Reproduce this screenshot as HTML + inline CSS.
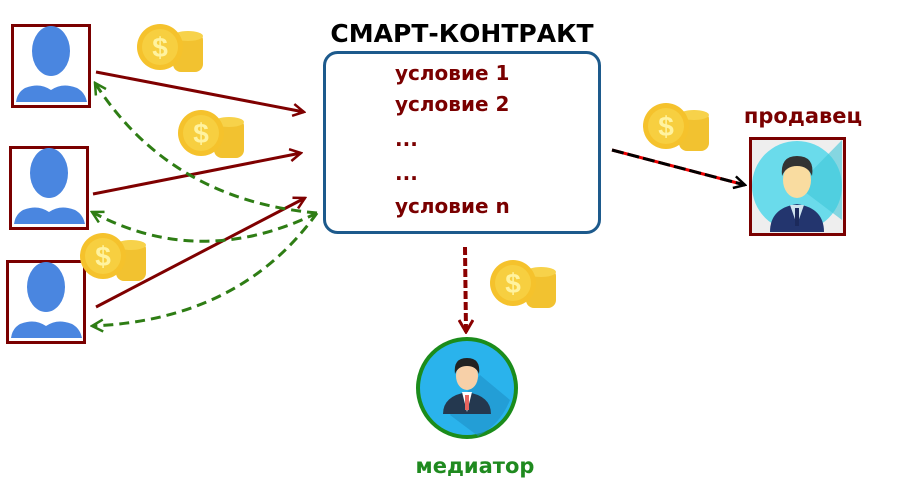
<!DOCTYPE html>
<html><head><meta charset="utf-8"><style>
html,body{margin:0;padding:0;background:#fff;}
svg{display:block;}
.t{font-family:"Comic Sans MS","DejaVu Sans","Liberation Sans",sans-serif;font-weight:bold;}
</style></head><body>
<svg width="900" height="500" viewBox="0 0 900 500" xmlns="http://www.w3.org/2000/svg">
<defs>
<marker id="ar" markerWidth="14" markerHeight="14" refX="12" refY="7" orient="auto" markerUnits="userSpaceOnUse"><path d="M1,1 L12,7 L1,13" fill="none" stroke="#7f0000" stroke-width="2.5"/></marker>
<marker id="ag" markerWidth="14" markerHeight="14" refX="12" refY="7" orient="auto" markerUnits="userSpaceOnUse"><path d="M1,1 L12,7 L1,13" fill="none" stroke="#2e7d14" stroke-width="2.5"/></marker>
<marker id="ab" markerWidth="14" markerHeight="14" refX="12" refY="7" orient="auto" markerUnits="userSpaceOnUse"><path d="M1,1 L12,7 L1,13" fill="none" stroke="#000" stroke-width="2.5"/></marker>
<marker id="ad" markerWidth="16" markerHeight="16" refX="8" refY="14" orient="0" markerUnits="userSpaceOnUse"><path d="M1,2 L8,14 L15,2" fill="none" stroke="#8b0000" stroke-width="3"/></marker>
</defs>

<!-- users -->
<g>
<rect x="12.5" y="25.5" width="77" height="81" fill="#fff" stroke="#7a0000" stroke-width="3"/>
<ellipse cx="51" cy="51" rx="19" ry="25" fill="#4a86e0"/>
<path d="M16,102 Q18,88 32,86 Q42,84 51,90 Q60,84 70,86 Q84,88 87,102 Z" fill="#4a86e0"/>
</g>
<g>
<rect x="10.5" y="147.5" width="77" height="81" fill="#fff" stroke="#7a0000" stroke-width="3"/>
<ellipse cx="49" cy="173" rx="19" ry="25" fill="#4a86e0"/>
<path d="M14,224 Q16,210 30,208 Q40,206 49,212 Q58,206 68,208 Q82,210 85,224 Z" fill="#4a86e0"/>
</g>
<g>
<rect x="7.5" y="261.5" width="77" height="81" fill="#fff" stroke="#7a0000" stroke-width="3"/>
<ellipse cx="46" cy="287" rx="19" ry="25" fill="#4a86e0"/>
<path d="M11,338 Q13,324 27,322 Q37,320 46,326 Q55,320 65,322 Q79,324 82,338 Z" fill="#4a86e0"/>
</g>

<!-- coins -->
<g id="c1" transform="translate(137,24)">
<rect x="36" y="8" width="30" height="40" rx="8" fill="#f2c230"/>
<ellipse cx="51" cy="12" rx="15" ry="5" fill="#f7d24a"/>
<circle cx="23" cy="23" r="23" fill="#f5c22c"/>
<circle cx="23" cy="23" r="18" fill="#f7cf40"/>
<text x="23" y="33" text-anchor="middle" font-family="Liberation Sans,sans-serif" font-weight="bold" font-size="28" fill="#fff3a0">$</text>
</g>
<g transform="translate(178,110)">
<rect x="36" y="8" width="30" height="40" rx="8" fill="#f2c230"/>
<ellipse cx="51" cy="12" rx="15" ry="5" fill="#f7d24a"/>
<circle cx="23" cy="23" r="23" fill="#f5c22c"/>
<circle cx="23" cy="23" r="18" fill="#f7cf40"/>
<text x="23" y="33" text-anchor="middle" font-family="Liberation Sans,sans-serif" font-weight="bold" font-size="28" fill="#fff3a0">$</text>
</g>
<g transform="translate(80,233)">
<rect x="36" y="8" width="30" height="40" rx="8" fill="#f2c230"/>
<ellipse cx="51" cy="12" rx="15" ry="5" fill="#f7d24a"/>
<circle cx="23" cy="23" r="23" fill="#f5c22c"/>
<circle cx="23" cy="23" r="18" fill="#f7cf40"/>
<text x="23" y="33" text-anchor="middle" font-family="Liberation Sans,sans-serif" font-weight="bold" font-size="28" fill="#fff3a0">$</text>
</g>
<g transform="translate(490,260)">
<rect x="36" y="8" width="30" height="40" rx="8" fill="#f2c230"/>
<ellipse cx="51" cy="12" rx="15" ry="5" fill="#f7d24a"/>
<circle cx="23" cy="23" r="23" fill="#f5c22c"/>
<circle cx="23" cy="23" r="18" fill="#f7cf40"/>
<text x="23" y="33" text-anchor="middle" font-family="Liberation Sans,sans-serif" font-weight="bold" font-size="28" fill="#fff3a0">$</text>
</g>
<g transform="translate(643,103)">
<rect x="36" y="8" width="30" height="40" rx="8" fill="#f2c230"/>
<ellipse cx="51" cy="12" rx="15" ry="5" fill="#f7d24a"/>
<circle cx="23" cy="23" r="23" fill="#f5c22c"/>
<circle cx="23" cy="23" r="18" fill="#f7cf40"/>
<text x="23" y="33" text-anchor="middle" font-family="Liberation Sans,sans-serif" font-weight="bold" font-size="28" fill="#fff3a0">$</text>
</g>

<!-- contract -->
<text x="462" y="42" text-anchor="middle" class="t" font-size="25" fill="#000">СМАРТ-КОНТРАКТ</text>
<rect x="324.5" y="52.5" width="275" height="180" rx="13" fill="#fff" stroke="#1d5a8c" stroke-width="3"/>
<g class="t" font-size="20" fill="#7a0000">
<text x="395" y="80">условие 1</text>
<text x="395" y="111">условие 2</text>
<text x="395" y="146">...</text>
<text x="395" y="180">...</text>
<text x="395" y="213">условие n</text>
</g>

<!-- red arrows -->
<g stroke="#7f0000" stroke-width="3" fill="none">
<line x1="96" y1="72" x2="304" y2="112" marker-end="url(#ar)"/>
<line x1="93" y1="194" x2="301" y2="153" marker-end="url(#ar)"/>
<line x1="96" y1="307" x2="305" y2="198" marker-end="url(#ar)"/>
</g>
<!-- green dashed -->
<g stroke="#2e7d14" stroke-width="3" fill="none" stroke-dasharray="10,6">
<path d="M317,213 Q170,200 95,83" marker-end="url(#ag)"/>
<path d="M317,213 Q200,270 92,212" marker-end="url(#ag)"/>
<path d="M317,213 Q240,320 92,326" marker-end="url(#ag)"/>
</g>

<!-- seller arrow -->
<line x1="612" y1="150" x2="745" y2="185" stroke="#e00" stroke-width="3"/>
<line x1="612" y1="150" x2="745" y2="185" stroke="#000" stroke-width="3" stroke-dasharray="12,4" marker-end="url(#ab)"/>
<text x="803" y="123" text-anchor="middle" class="t" font-size="21" fill="#7a0000">продавец</text>
<rect x="750.5" y="138.5" width="94" height="96" fill="#eee" stroke="#7a0000" stroke-width="3"/>
<circle cx="797" cy="186" r="45" fill="#6adbeb"/>
<path d="M797,186 L842,220 L842,140 Z" fill="#3fc6d8" opacity="0.6"/>
<path d="M770,232 Q770,208 797,204 Q824,208 824,232 Z" fill="#23356e"/>
<path d="M790,205 L797,225 L804,205 Z" fill="#cfe3ee"/>
<rect x="795" y="208" width="4" height="18" fill="#1c2a5c"/>
<ellipse cx="797" cy="180" rx="14" ry="18" fill="#f9dca0"/>
<path d="M782,176 Q780,156 797,156 Q815,156 812,176 Q808,166 797,166 Q786,166 782,176 Z" fill="#333"/>

<!-- mediator arrow -->
<line x1="465" y1="247" x2="466" y2="332" stroke="#8b0000" stroke-width="4" stroke-dasharray="8,3" marker-end="url(#ad)"/>
<circle cx="467" cy="388" r="49" fill="#2ab3ec" stroke="#1b8c1b" stroke-width="4"/>
<path d="M450,415 L478,436 Q500,425 510,400 L480,375 Z" fill="#1f8fc8" opacity="0.6"/>
<path d="M443,414 Q443,396 467,392 Q491,396 491,414 Z" fill="#24384f"/>
<path d="M462,392 L467,412 L472,392 Z" fill="#fff"/>
<rect x="465" y="395" width="4" height="15" fill="#e8655f"/>
<ellipse cx="467" cy="376" rx="11" ry="14" fill="#f7d0a8"/>
<path d="M455,374 Q453,358 467,358 Q481,358 479,374 Q476,366 467,366 Q458,366 455,374 Z" fill="#222"/>
<text x="475" y="473" text-anchor="middle" class="t" font-size="21" fill="#1f8a1f">медиатор</text>
</svg>
</body></html>
